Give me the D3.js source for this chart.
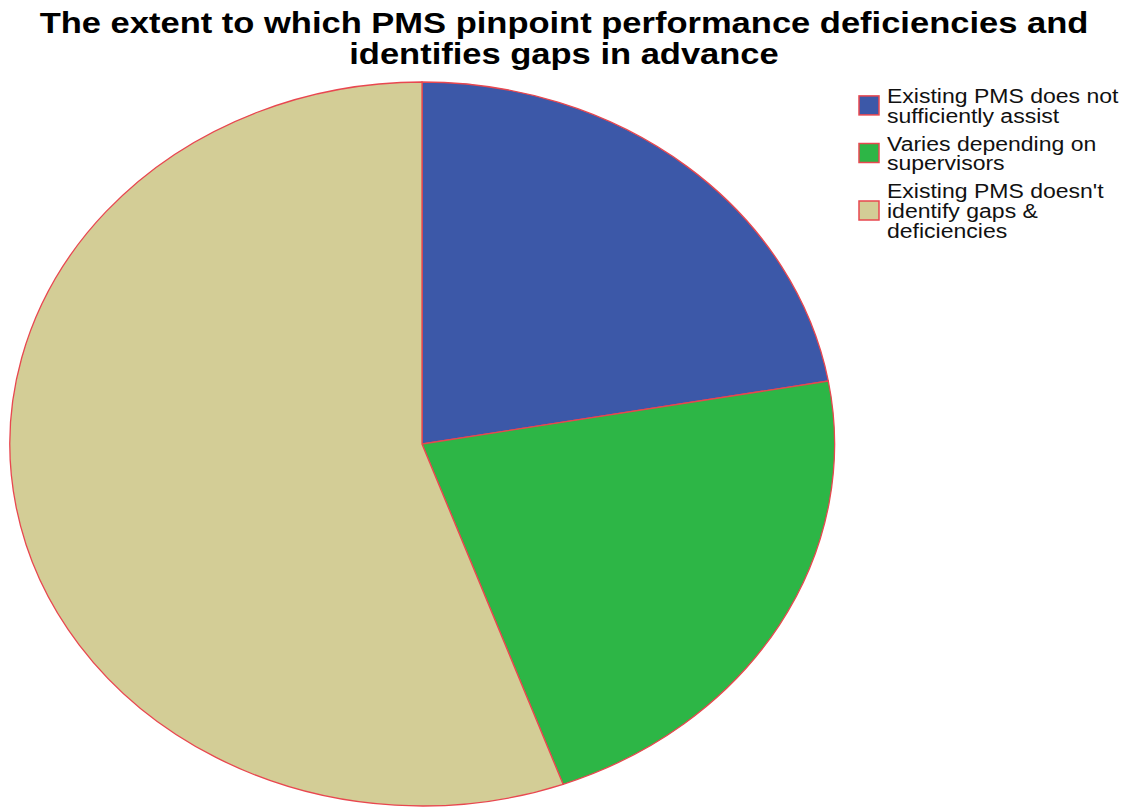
<!DOCTYPE html>
<html>
<head>
<meta charset="utf-8">
<script src="https://cdn.jsdelivr.net/npm/d3@7"></script>
<style>
  html, body { margin: 0; padding: 0; background: #fff; }
  svg { display: block; }
</style>
</head>
<body>
<svg id="chart" width="1123" height="808"></svg>
<script>
// Data
const categories = [
  "Existing PMS does not sufficiently assist",
  "Varies depending on supervisors",
  "Existing PMS doesn't identify gaps & deficiencies"
];
const legendLines = [
  ["Existing PMS does not", "sufficiently assist"],
  ["Varies depending on", "supervisors"],
  ["Existing PMS doesn't", "identify gaps &", "deficiencies"]
];
const values = [10, 10, 25];
const colors = ["#3C58A8", "#2DB646", "#D3CD96"];
const titleLines = [
  "The extent to which PMS pinpoint performance deficiencies and",
  "identifies gaps in advance"
];

const svg = d3.select("#chart");
const strokeColor = "#E8474F";
const stretch = 1.15;

function widen(sel) {
  sel.each(function () {
    const w = this.getComputedTextLength();
    d3.select(this).attr("textLength", w * stretch).attr("lengthAdjust", "spacingAndGlyphs");
  });
}

// Title
const title = svg.append("text")
  .attr("text-anchor", "middle")
  .attr("font-family", "'Liberation Sans', Arial, sans-serif")
  .attr("font-weight", "bold")
  .attr("font-size", 30)
  .attr("fill", "#000");
titleLines.forEach((t, i) => {
  title.append("tspan").attr("x", 564).attr("y", 33 + i * 31).text(t);
});
widen(title.selectAll("tspan"));

// Pie (elliptical)
const cx = 422, cy = 444, rx = 412.5, ry = 362;
const pie = d3.pie().sort(null).value(d => d)(values);
const arc = d3.arc().innerRadius(0).outerRadius(1);
const g = svg.append("g").attr("transform", `translate(${cx},${cy}) scale(${rx},${ry})`);
g.selectAll("path")
  .data(pie)
  .join("path")
  .attr("d", arc)
  .attr("fill", (d, i) => colors[i])
  .attr("stroke", strokeColor)
  .attr("stroke-width", 1.3)
  .attr("vector-effect", "non-scaling-stroke");

// Legend
const lg = svg.append("g").attr("font-family", "'Liberation Sans', Arial, sans-serif")
  .attr("font-size", 20).attr("fill", "#111");
const lineH = 19.8;
let y0 = 103;
const blockGap = 8;
legendLines.forEach((lines, i) => {
  const n = lines.length;
  const top = y0 - 15;
  const bottom = y0 + (n - 1) * lineH;
  const mid = (top + bottom) / 2;
  lg.append("rect")
    .attr("x", 859).attr("y", mid - 9.5)
    .attr("width", 20).attr("height", 19)
    .attr("fill", colors[i])
    .attr("stroke", strokeColor).attr("stroke-width", 1.5);
  const t = lg.append("text");
  lines.forEach((l, j) => {
    t.append("tspan").attr("x", 887).attr("y", y0 + j * lineH).text(l);
  });
  y0 = bottom + lineH + blockGap;
});
widen(lg.selectAll("tspan"));
</script>
</body>
</html>
